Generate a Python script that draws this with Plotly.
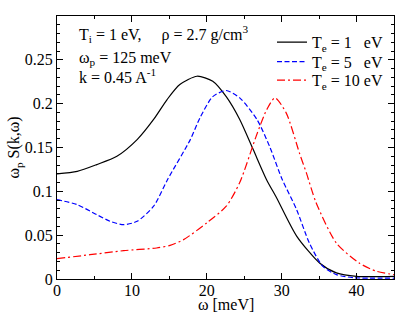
import plotly.graph_objects as go

# omega [meV] and omega_p S(k, omega) for each electron temperature
omega_te1 = [0, 2.7, 5.3, 8.0, 10.7, 12.9, 14.7, 16.4, 18.7, 20.8, 22.6, 24.4,
             26.2, 28.0, 29.3, 32.0, 35.1, 37.3, 40.0, 45.0]
s_te1 = [0.120, 0.1228, 0.1305, 0.140, 0.159, 0.182, 0.2047, 0.2218, 0.2313,
         0.2256, 0.208, 0.182, 0.1476, 0.113, 0.093, 0.049, 0.018, 0.007, 0.003,
         0.003]

omega_te5 = [0, 2.7, 5.3, 7.1, 8.9, 10.7, 12.9, 14.8, 17.8, 19.1, 20.8, 22.6,
             24.4, 26.7, 28.4, 30.0, 32.0, 33.7, 35.5, 37.3, 39.6, 45.0]
s_te5 = [0.0905, 0.0848, 0.0734, 0.0658, 0.062, 0.0658, 0.083, 0.114, 0.159,
         0.184, 0.208, 0.215, 0.2066, 0.182, 0.151, 0.115, 0.079, 0.041, 0.0144,
         0.005, 0.0015, 0.001]

omega_te10 = [0, 4.4, 8.9, 13.3, 15.1, 16.9, 20.0, 22.6, 24.4, 26.6, 28.0, 29.1,
              30.6, 32.4, 33.3, 34.6, 37.3, 40.4, 42.7, 45.0]
s_te10 = [0.0232, 0.0277, 0.0323, 0.0354, 0.0384, 0.0449, 0.064, 0.083, 0.110,
          0.163, 0.193, 0.2066, 0.1895, 0.143, 0.121, 0.087, 0.041, 0.018, 0.0087,
          0.005]

labels = ["T<sub>e</sub> = 1\u00a0\u00a0\u00a0eV",
          "T<sub>e</sub> = 5\u00a0\u00a0\u00a0eV",
          "T<sub>e</sub> = 10 eV"]

x_ticks = [0, 10, 20, 30, 40]
y_ticks = [0, 0.05, 0.1, 0.15, 0.2, 0.25]
y_tick_labels = ["0", "0.05", "0.1", "0.15", "0.2", "0.25"]

FONT = "Liberation Serif"
FS = 16

fig = go.Figure()
series = [
    (omega_te1, s_te1, "black", "solid", "legend"),
    (omega_te5, s_te5, "blue", "5px,2.5px", "legend2"),
    (omega_te10, s_te10, "red", "8px,3px,2px,3px", "legend3"),
]
for (x, y, color, dash, leg), name in zip(series, labels):
    fig.add_trace(go.Scatter(
        x=x, y=y, mode="lines", name=name, legend=leg, showlegend=True,
        line=dict(color=color, width=1.2, dash=dash, shape="spline", smoothing=0.7),
    ))

axis_common = dict(
    showline=True, linecolor="black", linewidth=1, mirror="allticks",
    ticks="inside", ticklen=6, tickcolor="black", tickwidth=1,
    showgrid=False, zeroline=False, automargin=False,
    tickfont=dict(family=FONT, size=FS, color="black"),
)

fig.update_xaxes(
    range=[0, 45], tickmode="array", tickvals=x_ticks, ticklabelstandoff=-3,
    minor=dict(ticks="inside", ticklen=3, dtick=5, tick0=0, tickcolor="black"),
    **axis_common,
)
fig.update_yaxes(
    range=[0, 0.3], tickmode="array", tickvals=y_ticks, ticktext=y_tick_labels,
    minor=dict(ticks="inside", ticklen=3, dtick=0.01, tick0=0, tickcolor="black"),
    title=dict(text="ω<sub>p</sub> S(k,ω)", font=dict(family=FONT, size=FS, color="black"), standoff=0),
    **axis_common,
)

text_font = dict(family=FONT, size=FS, color="black")

# x axis title sits tight under the tick labels, closer than plotly's title allows
fig.add_annotation(
    text="ω [meV]", xref="paper", yref="paper", x=0.5, y=-0.097,
    xanchor="center", yanchor="middle", showarrow=False, font=text_font,
)

notes = [
    ("T<sub>i</sub> = 1 eV,\u00a0\u00a0\u00a0\u00a0 ρ = 2.7 g/cm<sup>3</sup>", 0.93),
    ("ω<sub>p</sub> = 125 meV", 0.838),
    ("k = 0.45 A<sup>-1</sup>", 0.77),
]
for text, ypos in notes:
    fig.add_annotation(
        text=text, xref="paper", yref="paper", x=0.059, y=ypos,
        xanchor="left", yanchor="middle", showarrow=False, font=text_font,
    )

legend_style = dict(xanchor="left", yanchor="middle", bgcolor="rgba(0,0,0,0)", font=text_font)
fig.update_layout(
    width=415, height=321,
    margin=dict(l=57, r=21, t=16, b=42),
    paper_bgcolor="white", plot_bgcolor="white",
    font=dict(family=FONT, color="black"),
    showlegend=True,
    legend=dict(x=0.638, y=0.9, **legend_style),
    legend2=dict(x=0.638, y=0.826, **legend_style),
    legend3=dict(x=0.638, y=0.756, **legend_style),
)

# drop the browser's default 8px body margin so the figure sits at the page corner
fig.write_html(
    "out.html",
    config={"displayModeBar": False},
    post_script="document.body.style.margin = '0';",
)
